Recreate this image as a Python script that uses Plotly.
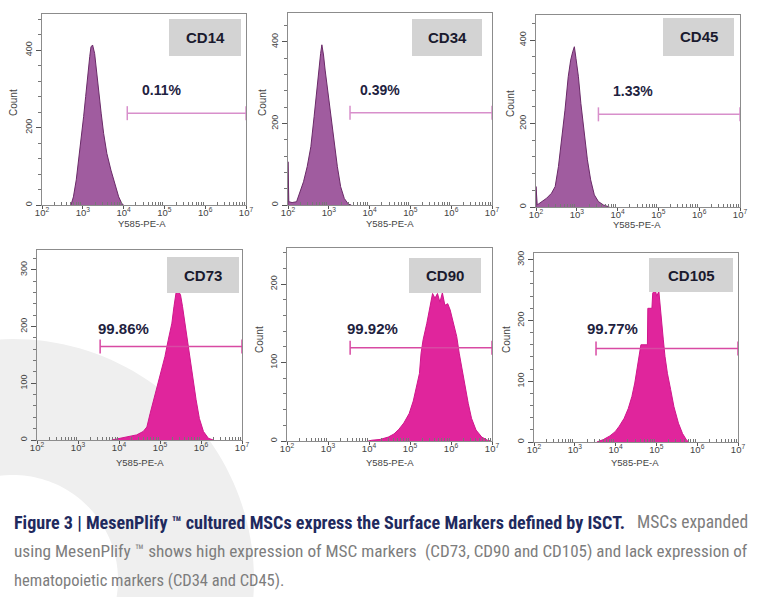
import numpy as np
import plotly.graph_objects as go

W, H = 763, 597

# ---------------- data ----------------
markers = ["CD14", "CD34", "CD45", "CD73", "CD90", "CD105"]
percent = ["0.11%", "0.39%", "1.33%", "99.86%", "99.92%", "99.77%"]

cd14_log = [2.71, 2.77, 2.84, 2.90, 2.96, 3.02, 3.07, 3.12, 3.17, 3.20, 3.24, 3.29, 3.33, 3.39,
            3.45, 3.51, 3.59, 3.69, 3.80, 3.88, 3.96, 4.00]
cd14_count = [0, 21, 65, 116, 168, 228, 280, 340, 383, 408, 413, 391, 348, 288,
              237, 185, 133, 90, 47, 21, 3, 0]

cd34_log = [2.00, 2.00, 2.02, 2.10, 2.21, 2.29, 2.38, 2.47, 2.56, 2.64, 2.70, 2.76, 2.80, 2.83,
            2.87, 2.91, 2.97, 3.05, 3.13, 3.21, 3.29, 3.38, 3.48, 3.55]
cd34_count = [0, 106, 8, 6, 8, 29, 57, 94, 143, 217, 282, 331, 372, 393,
              368, 331, 282, 217, 151, 94, 45, 16, 2, 0]

cd45_log = [2.00, 2.00, 2.03, 2.14, 2.26, 2.38, 2.47, 2.55, 2.63, 2.71, 2.79, 2.85, 2.90, 2.94,
            2.98, 3.04, 3.10, 3.18, 3.26, 3.34, 3.43, 3.53, 3.65, 3.80]
cd45_count = [0, 49, 5, 13, 21, 33, 49, 97, 160, 232, 312, 352, 372, 384,
              356, 312, 248, 177, 113, 65, 29, 13, 5, 0]

cd73_log = [3.82, 3.90, 4.19, 4.43, 4.59, 4.68, 4.76, 4.85, 4.93, 5.02, 5.12, 5.20, 5.29, 5.34,
            5.39, 5.45, 5.50, 5.55, 5.61, 5.67, 5.73, 5.80, 5.88, 5.96, 6.06, 6.18, 6.30]
cd73_count = [0, 1, 5, 9, 15, 23, 47, 71, 94, 118, 147, 176, 206, 235,
              259, 262, 256, 235, 206, 176, 141, 106, 71, 38, 15, 3, 0]

cd90_log = [3.98, 4.07, 4.27, 4.47, 4.61, 4.73, 4.85, 4.98, 5.08, 5.16, 5.23, 5.27, 5.32, 5.41,
            5.49, 5.55, 5.61, 5.67, 5.73, 5.79, 5.85, 5.92, 5.98, 6.02, 6.07, 6.14, 6.20, 6.27,
            6.34, 6.42, 6.50, 6.61, 6.75, 6.89, 6.98]
cd90_count = [0, 1, 2, 5, 9, 15, 23, 35, 51, 69, 86, 112, 129, 150,
              171, 188, 182, 188, 177, 189, 173, 175, 167, 158, 148, 133, 112, 90,
              69, 48, 29, 14, 5, 1, 0]

cd105_log = [3.54, 3.70, 3.86, 3.99, 4.09, 4.21, 4.31, 4.40, 4.47, 4.52, 4.57, 4.62, 4.78, 4.79,
             4.89, 4.91, 4.97, 5.01, 5.06, 5.09, 5.13, 5.17, 5.21, 5.27, 5.35, 5.43, 5.54, 5.64,
             5.74, 5.80]
cd105_count = [0, 4, 10, 17, 26, 39, 55, 75, 97, 119, 141, 160, 160, 220,
               220, 245, 250, 240, 248, 223, 196, 168, 141, 113, 86, 58, 31, 14,
               3, 0]

gate_start_log = [4.09, 3.52, 3.53, 3.54, 3.54, 3.52]
gate_end_log = [7.0, 7.0, 7.0, 7.0, 7.0, 7.0]
gate_count = [237, 226, 222, 165, 119, 154]

label_log = [4.93, 4.25, 4.37, 4.12, 4.09, 3.92]
label_count = [297, 282, 279, 197, 144, 187]

y_max = [493, 471, 460, 335, 246, 311]
y_major = [200, 200, 200, 100, 100, 100]
x_tick_exp = [2, 3, 4, 5, 6, 7]

caption_bold = "Figure 3 | MesenPlify \u2122 cultured MSCs express the Surface Markers defined by ISCT."
caption_l1_rest = "MSCs expanded"
caption_l2a = "using MesenPlify \u2122 shows high expression of MSC markers"
caption_l2b = "(CD73, CD90 and CD105) and lack expression of"
caption_l3 = "hematopoietic markers (CD34 and CD45)."

# ---------------- layout geometry (pixels) ----------------
frames = [(42, 246, 14, 205), (288, 492, 13, 205), (536, 740, 15, 207),
          (37, 242, 250, 440), (287, 492, 248, 441), (534, 738, 253, 442)]
boxes = [(169, 241, 19, 56), (412, 482, 19, 56), (663, 734, 18, 56),
         (167, 239, 257, 293), (409, 481, 258, 293), (649, 733, 258, 292)]
count_title_pos = [(13, 103), (262, 103), (510, 103), None, (260, 340), (507, 340)]
xtitle_pos = [(142, 224), (390, 224), (637, 225), (140, 462), (390, 462), (635, 462)]

hist_logs = [cd14_log, cd34_log, cd45_log, cd73_log, cd90_log, cd105_log]
hist_counts = [cd14_count, cd34_count, cd45_count, cd73_count, cd90_count, cd105_count]

fills = ['#A05C9F'] * 3 + ['#E0259C'] * 3
lines = ['#6A2A68'] * 3 + ['#D0168C'] * 3
gate_colors = ['#D88FCB'] * 3 + ['#D84AA3'] * 3

TICKFONT = 'Liberation Sans, Arial, sans-serif'
CAPFONT = 'Liberation Sans Narrow, Roboto Condensed, Roboto, sans-serif'

def px(x):
    return x / W

def py(y):
    return 1 - y / H

fig = go.Figure()
layout = dict(width=W, height=H, margin=dict(l=0, r=0, t=0, b=0, pad=0, autoexpand=False),
              paper_bgcolor='white', plot_bgcolor='rgba(0,0,0,0)', showlegend=False)

minor_vals = [k * 10 ** d for d in range(2, 7) for k in range(2, 10)]

shapes = []
annotations = []

# background swoosh (decorative)
cx, cy, r_out, r_in = 13, 580, 241, 105
t = np.linspace(0, 2 * np.pi, 181)
outer = [(px(cx + r_out * np.cos(a)), py(cy + r_out * np.sin(a))) for a in t]
inner = [(px(cx + r_in * np.cos(a)), py(cy + r_in * np.sin(a))) for a in t[::-1]]
path = 'M ' + ' L '.join(f'{x:.4f},{y:.4f}' for x, y in outer) + ' Z M ' + \
       ' L '.join(f'{x:.4f},{y:.4f}' for x, y in inner) + ' Z'
shapes.append(dict(type='path', path=path, xref='paper', yref='paper',
                   fillcolor='#EFEFEF', line=dict(width=0), layer='below'))

def ann(x, y, text, font, **kw):
    d = dict(x=px(x), y=py(y), xref='paper', yref='paper', showarrow=False, text=text,
             font=font, xanchor='center', yanchor='middle')
    d.update(kw)
    return d

for i in range(6):
    sfx = '' if i == 0 else str(i + 1)
    xa, ya = 'x' + sfx, 'y' + sfx
    x0, x1, y0, y1 = frames[i]
    layout['xaxis' + sfx] = dict(
        domain=[px(x0), px(x1)], anchor=ya, type='log', range=[2, 7],
        tickmode='array', tickvals=[10 ** e for e in x_tick_exp],
        ticktext=[f'10<sup>{e}</sup>' for e in x_tick_exp],
        ticks='outside', ticklen=3, tickcolor='#555', showline=True, mirror=True,
        linecolor='#8c8c8c', linewidth=1, showgrid=False, zeroline=False,
        ticklabelstandoff=-4,
        tickfont=dict(size=9.5, color='#444', family=TICKFONT),
        minor=dict(tickmode='array', tickvals=minor_vals, ticks='inside', ticklen=3,
                   tickcolor='#777', showgrid=False))
    layout['yaxis' + sfx] = dict(
        domain=[py(y1), py(y0)], anchor=xa, range=[0, y_max[i]],
        tick0=0, dtick=y_major[i], ticks='outside', ticklen=5, tickcolor='#555',
        tickangle=-90, showline=True, mirror=True, linecolor='#8c8c8c', linewidth=1,
        showgrid=False, zeroline=False,
        tickfont=dict(size=9, color='#444', family=TICKFONT),
        minor=dict(tick0=0, dtick=y_major[i] / 5, ticks='outside', ticklen=3,
                   tickcolor='#777', showgrid=False))

    fig.add_trace(go.Scatter(
        x=10 ** np.array(hist_logs[i]), y=hist_counts[i], xaxis=xa, yaxis=ya,
        mode='lines', fill='tozeroy', fillcolor=fills[i],
        line=dict(color=lines[i], width=1), hoverinfo='skip', showlegend=False))
    fig.add_trace(go.Scatter(
        x=[10 ** gate_start_log[i], 10 ** gate_end_log[i]], y=[gate_count[i]] * 2,
        xaxis=xa, yaxis=ya, mode='lines+markers', cliponaxis=False,
        line=dict(color=gate_colors[i], width=1.5),
        marker=dict(symbol='line-ns', size=10, line=dict(color=gate_colors[i], width=1.5)),
        hoverinfo='skip', showlegend=False))

    annotations.append(dict(
        x=label_log[i], y=label_count[i], xref=xa, yref=ya, showarrow=False,
        xanchor='center', yanchor='middle',
        text=f'<b>{percent[i]}</b>',
        font=dict(size=14 if i < 3 else 15, color='#1E2240', family=TICKFONT)))

    bx0, bx1, by0, by1 = boxes[i]
    shapes.append(dict(type='rect', xref='paper', yref='paper',
                       x0=px(bx0), x1=px(bx1), y0=py(by1), y1=py(by0),
                       fillcolor='#D3D3D3', line=dict(width=0), layer='above'))
    annotations.append(ann((bx0 + bx1) / 2, (by0 + by1) / 2, f'<b>{markers[i]}</b>',
                           dict(size=15, color='#1a1a2e', family=TICKFONT)))

    if count_title_pos[i] is not None:
        cxp, cyp = count_title_pos[i]
        annotations.append(ann(cxp, cyp, 'Count', dict(size=10, color='#444', family=TICKFONT),
                               textangle=-90))
    tx, ty = xtitle_pos[i]
    annotations.append(ann(tx, ty, 'Y585-PE-A', dict(size=9.5, color='#444', family=TICKFONT)))

# caption
annotations.append(ann(12, 522, f'<b>{caption_bold}</b>',
                       dict(size=18.1, color='#1F2A5E', family=CAPFONT), xanchor='left'))
annotations.append(ann(750, 522, caption_l1_rest,
                       dict(size=17.5, color='#7d7d7d', family=CAPFONT), xanchor='right'))
annotations.append(ann(12, 551, caption_l2a,
                       dict(size=17.3, color='#7d7d7d', family=CAPFONT), xanchor='left'))
annotations.append(ann(750, 551, caption_l2b,
                       dict(size=17, color='#7d7d7d', family=CAPFONT), xanchor='right'))
annotations.append(ann(12, 580, caption_l3,
                       dict(size=16.5, color='#7d7d7d', family=CAPFONT), xanchor='left'))

layout['shapes'] = shapes
layout['annotations'] = annotations
fig.update_layout(**layout)
fig.write_html("out.html", config={'displayModeBar': False},
               post_script="document.body.style.margin='0';document.body.style.padding='0';")
